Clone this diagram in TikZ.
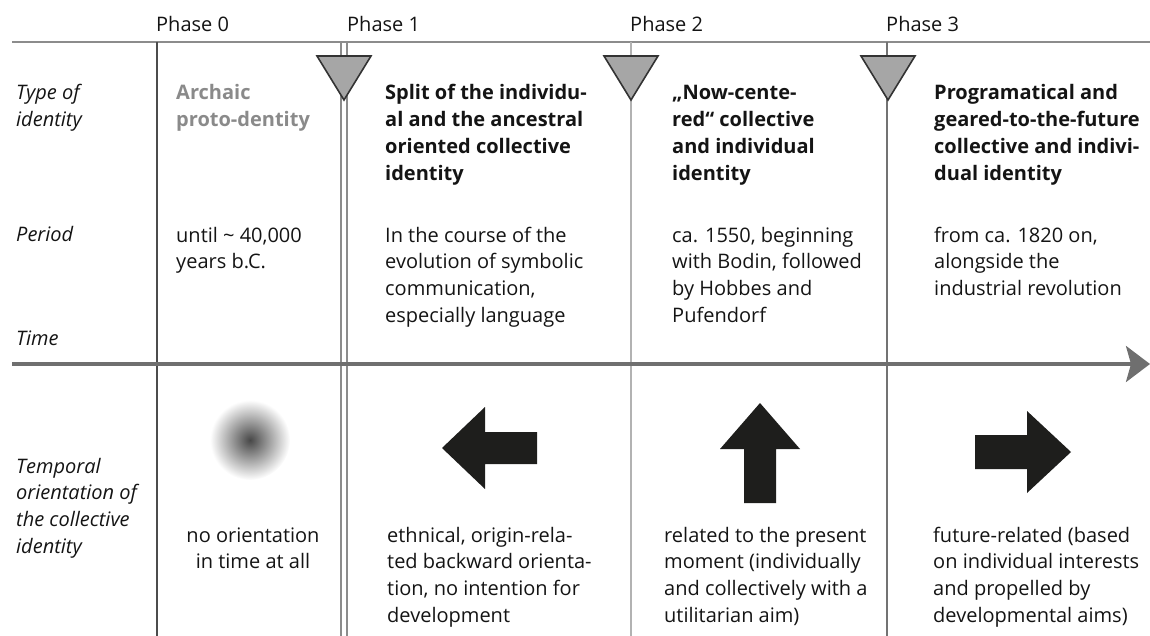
\documentclass[tikz,border=0pt]{standalone}
\usepackage{fontspec}
\setmainfont{Open Sans}
\usetikzlibrary{arrows.meta}
\usetikzlibrary{calc}

\definecolor{axisgray}{HTML}{6F6F6F}
\definecolor{rulegray}{HTML}{8C8C8C}
\definecolor{trigray}{HTML}{A6A6A6}
\definecolor{textdark}{HTML}{141414}
\definecolor{archgray}{HTML}{8A8A8A}
\definecolor{arrowblack}{HTML}{1E1E1C}
\newcommand{\bodysize}{\fontsize{20}{26.7}\selectfont}

\begin{document}
\begin{tikzpicture}[x=1pt,y=-1pt]
    % Styles (anchor = baseline of the last line)
    \tikzset{
        txt/.style={font=\bodysize, text=textdark, inner sep=0pt, anchor=base west, align=left},
        rowlabel/.style={txt, font=\bodysize\itshape},
        headtxt/.style={txt, font=\bodysize\bfseries},
        phase/.style={txt},
        sepline/.style={line width=1.2pt},
        marker/.style={draw=black!80, fill=trigray, line width=1.6pt, line join=miter},
        blockarrow/.style={fill=arrowblack},
        timeaxis/.style={draw=axisgray, line width=3.5pt, -{Stealth[length=24pt, width=36pt, inset=5pt]}}
    }

    \useasboundingbox (0,0) rectangle (1150,636);

    % Frame coordinates
    \coordinate (topL) at (12,42);
    \coordinate (topR) at (1150,42);
    \coordinate (axisL) at (12,364);
    \coordinate (axisR) at (1150,364);
    \coordinate (bot) at (0,636);
    \coordinate (p0) at (157,42);
    \coordinate (p1a) at (341,42);
    \coordinate (p1b) at (347,42);
    \coordinate (p2) at (631,42);
    \coordinate (p3) at (887,42);

    % Rules
    \draw[rulegray, line width=1.5pt] (topL) -- (topR);
    \draw[sepline, black!70] (p0) -- (p0 |- bot);
    \draw[sepline, black!45] (p1a) -- (p1a |- bot);
    \draw[sepline, black!45] (p1b) -- (p1b |- bot);
    \draw[sepline, black!30] (p2) -- (p2 |- bot);
    \draw[sepline, black!55] (p3) -- (p3 |- bot);
    \draw[timeaxis] (axisL) -- (axisR);

    % Phase markers
    \coordinate (m1) at (344,100);
    \coordinate (m2) at (631,100);
    \coordinate (m3) at (888,100);
    \filldraw[marker] (m1) -- ++(-27,-44) -- ++(54,0) -- cycle;
    \filldraw[marker] (m2) -- ++(-27,-44) -- ++(54,0) -- cycle;
    \filldraw[marker] (m3) -- ++(-27,-44) -- ++(54,0) -- cycle;

    % Phase labels
    \node[phase] (ph0) at (156,32) {Phase 0};
    \node[phase] (ph1) at (347,32) {Phase 1};
    \node[phase] (ph2) at (630,32) {Phase 2};
    \node[phase] (ph3) at (886,32) {Phase 3};

    % Row labels
    \node[rowlabel] (lblType) at (16,126.7) {Type of\\identity};
    \node[rowlabel] (lblPeriod) at (16,242) {Period};
    \node[rowlabel] (lblTime) at (16,345) {Time};
    \node[rowlabel] (lblTemporal) at (16,553.1) {Temporal\\orientation of\\the collective\\identity};

    % Type of identity
    \node[headtxt, text=archgray] (type0) at (176,126.7) {Archaic\\proto-dentity};
    \node[headtxt] (type1) at (385,180.1) {Split of the individu-\\al and the ancestral\\oriented collective\\identity};
    \node[headtxt] (type2) at (672,180.1) {„Now-cente-\\red“ collective\\and individual\\identity};
    \node[headtxt] (type3) at (934,180.1) {Programatical and\\geared-to-the-future\\collective and indivi-\\dual identity};

    % Period
    \node[txt] (per0) at (176,268.7) {until \textasciitilde{} 40,000\\years b.C.};
    \node[txt] (per1) at (385,322.1) {In the course of the\\evolution of symbolic\\communication,\\especially language};
    \node[txt] (per2) at (672,322.1) {ca. 1550, beginning\\with Bodin, followed\\by Hobbes and\\Pufendorf};
    \node[txt] (per3) at (934,295.4) {from ca. 1820 on,\\alongside the\\industrial revolution};

    % Orientation symbols
    \shade[inner color=black!72, outer color=white] (250,440) circle (40);
    \coordinate (arrBack) at (442,448);
    \coordinate (arrNow) at (760,403);
    \coordinate (arrFwd) at (1071,452);
    \fill[blockarrow] (arrBack) -- ++(43,-41) -- ++(0,25) -- ++(52,0) -- ++(0,32) -- ++(-52,0) -- ++(0,25) -- cycle;
    \fill[blockarrow] (arrNow) -- ++(40,46) -- ++(-24,0) -- ++(0,54) -- ++(-32,0) -- ++(0,-54) -- ++(-24,0) -- cycle;
    \fill[blockarrow] (arrFwd) -- ++(-44,-41) -- ++(0,24) -- ++(-52,0) -- ++(0,34) -- ++(52,0) -- ++(0,24) -- cycle;

    % Temporal orientation
    \node[txt, anchor=base, align=center] (ori0) at (253,568.7) {no orientation\\in time at all};
    \node[txt] (ori1) at (387,622.1) {ethnical, origin-rela-\\ted backward orienta-\\tion, no intention for\\development};
    \node[txt] (ori2) at (664,622.1) {related to the present\\moment (individually\\and collectively with a\\utilitarian aim)};
    \node[txt] (ori3) at (933,622.1) {future-related (based\\on individual interests\\and propelled by\\developmental aims)};
\end{tikzpicture}
\end{document}
